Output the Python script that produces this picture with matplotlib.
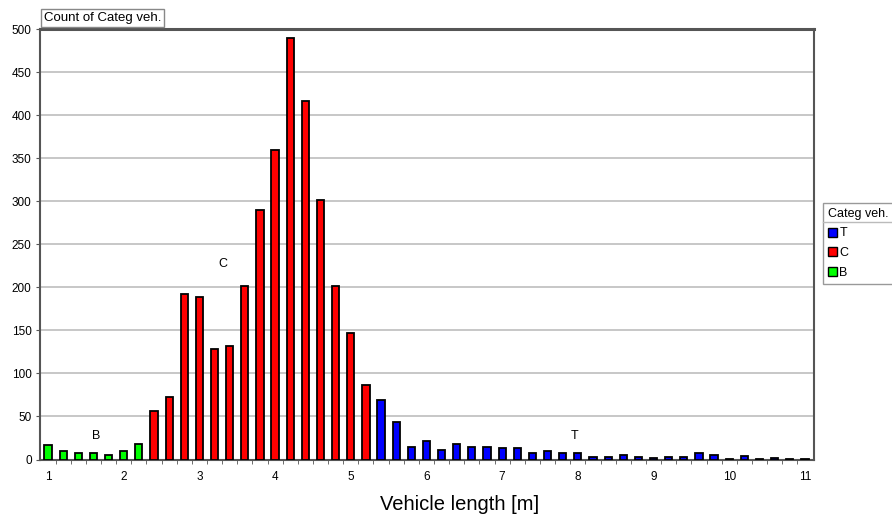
import matplotlib
matplotlib.use('Agg')
import matplotlib.pyplot as plt
from matplotlib.lines import Line2D
from matplotlib.patches import Patch

plt.rcParams['font.family'] = ['Liberation Sans', 'DejaVu Sans']

# vehicle length classes [m] and counts per category
b_len = [1.0, 1.2, 1.4, 1.6, 1.8, 2.0, 2.2]
b_cnt = [17, 10, 8, 8, 5, 10, 18]
c_len = [2.4, 2.6, 2.8, 3.0, 3.2, 3.4, 3.6, 3.8, 4.0, 4.2, 4.4, 4.6, 4.8, 5.0, 5.2]
c_cnt = [56, 73, 192, 189, 128, 132, 201, 290, 360, 490, 416, 301, 201, 147, 87]
t_len = [5.4, 5.6, 5.8, 6.0, 6.2, 6.4, 6.6, 6.8, 7.0, 7.2, 7.4, 7.6, 7.8, 8.0, 8.2,
         8.4, 8.6, 8.8, 9.0, 9.2, 9.4, 9.6, 9.8, 10.0, 10.2, 10.4, 10.6, 10.8, 11.0]
t_cnt = [69, 44, 15, 22, 11, 18, 14, 15, 13, 13, 8, 10, 7, 8, 3,
         3, 5, 3, 2, 3, 3, 7, 5, 1, 4, 1, 2, 1, 1]
x_ticks = [1, 2, 3, 4, 5, 6, 7, 8, 9, 10, 11]
y_ticks = [0, 50, 100, 150, 200, 250, 300, 350, 400, 450, 500]

W, H = 892, 520
fig = plt.figure(figsize=(W / 100, H / 100), dpi=100)
ax = fig.add_axes([40 / W, 1 - 459.5 / H, (814 - 40) / W, (459.5 - 29) / H])

bw = 0.095
ax.bar(b_len, b_cnt, width=bw, color='#00ff00', edgecolor='black', linewidth=1.3, zorder=3)
ax.bar(c_len, c_cnt, width=bw, color='#ff0000', edgecolor='black', linewidth=1.3, zorder=3)
ax.bar(t_len, t_cnt, width=bw, color='#0000ff', edgecolor='black', linewidth=1.3, zorder=3)

ax.set_xlim(0.894, 11.12)
ax.set_ylim(0, 500)
ax.set_yticks(y_ticks)
ax.set_xticks(x_ticks)
ax.set_xticklabels([str(v) for v in x_ticks])
ax.set_xticks([v / 10 for v in range(11, 111, 2)], minor=True)
ax.tick_params(axis='x', which='major', length=0, pad=8, labelsize=8.5)
ax.tick_params(axis='x', which='minor', length=3, color='#555555')
ax.tick_params(axis='y', length=3, color='#555555', labelsize=8.5, pad=3)
ax.yaxis.grid(True, color='#bdbdbd', linewidth=1.2, zorder=0)
ax.set_axisbelow(True)
for side in ['left', 'right', 'bottom']:
    ax.spines[side].set_color('#555555')
    ax.spines[side].set_linewidth(1.5)
ax.spines['top'].set_color('#555555')
ax.spines['top'].set_linewidth(2.2)

ax.text(1.64, 20, 'B', ha='center', va='bottom', fontsize=9)
ax.text(3.31, 220, 'C', ha='center', va='bottom', fontsize=9)
ax.text(7.95, 20, 'T', ha='center', va='bottom', fontsize=9)

fig.text(460 / W, 1 - 505 / H, 'Vehicle length [m]', ha='center', va='center', fontsize=14.5)
fig.text(44 / W, 1 - 18 / H, 'Count of Categ veh.', ha='left', va='center', fontsize=9.5,
         bbox=dict(boxstyle='square,pad=0.22', facecolor='white', edgecolor='#888888', linewidth=1))

handles = [Patch(facecolor='#0000ff', edgecolor='black', label='T'),
           Patch(facecolor='#ff0000', edgecolor='black', label='C'),
           Patch(facecolor='#00ff00', edgecolor='black', label='B')]
leg = fig.legend(handles=handles, title='Categ veh.', loc='upper left',
                 bbox_to_anchor=(823 / W, 1 - 203 / H), borderaxespad=0,
                 fontsize=9, title_fontsize=9,
                 handlelength=0.7, handleheight=0.7, handletextpad=0.2, labelspacing=0.6,
                 borderpad=0.4, fancybox=False, edgecolor='#999999', framealpha=1)
leg._legend_box.align = 'left'
leg.get_frame().set_linewidth(1)
fig.add_artist(Line2D([823 / W, 1.0], [1 - 222 / H, 1 - 222 / H], color='#bbbbbb', linewidth=1,
                      transform=fig.transFigure, zorder=10))

fig.savefig('out.png', dpi=100)
